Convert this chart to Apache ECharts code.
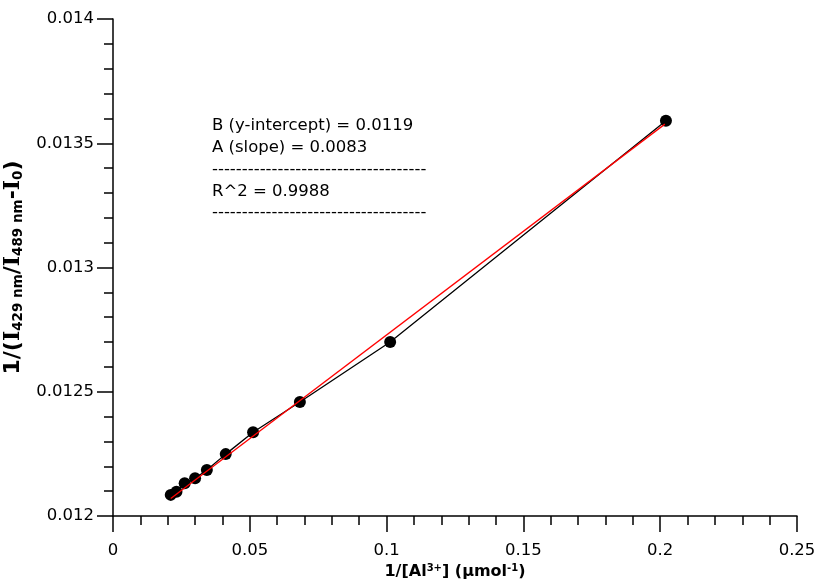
<!DOCTYPE html>
<html>
<head>
<meta charset="utf-8">
<script src="https://cdn.jsdelivr.net/npm/echarts@6/dist/echarts.min.js"></script>
<style>
html,body{margin:0;padding:0;background:#fff;}
#chart{width:819px;height:580px;}
</style>
</head>
<body>
<div id="chart"></div>
<script>
// Data
const xValues = [0.0211, 0.0232, 0.0262, 0.0300, 0.0343, 0.0412, 0.0512, 0.0683, 0.1013, 0.2021];
const yValues = [0.012085, 0.012098, 0.012132, 0.012152, 0.012185, 0.012249, 0.012337, 0.012459, 0.012700, 0.013591];
// Fitted line endpoints (red)
const fitX = [0.0211, 0.2017];
const fitY = [0.012070, 0.013577];
const annotationLines = [
  'B (y-intercept) = 0.0119',
  'A (slope) = 0.0083',
  '------------------------------------',
  'R^2 = 0.9988',
  '------------------------------------'
];

const font = 'DejaVu Sans';
const chart = echarts.init(document.getElementById('chart'), null, {renderer: 'canvas'});

const fmt = v => String(+(+v).toFixed(5));

chart.setOption({
  animation: false,
  backgroundColor: '#ffffff',
  grid: {left: 113, right: 22, top: 19, bottom: 64, containLabel: false, outerBoundsMode: 'none'},
  xAxis: {
    type: 'value', min: 0, max: 0.25, interval: 0.05,
    axisLine: {onZero: false, lineStyle: {color: '#000', width: 1.5}},
    axisTick: {show: true, length: 16, lineStyle: {color: '#000', width: 1.5}},
    minorTick: {show: true, splitNumber: 5, length: 9, lineStyle: {color: '#000', width: 1.5}},
    splitLine: {show: false},
    axisLabel: {color: '#000', fontFamily: font, fontSize: 16.5, margin: 26, formatter: fmt},
    name: '{n|1/[Al}{sup|3+}{n|] (µmol}{sup|-1}{n|)}',
    nameLocation: 'middle', nameGap: 46,
    nameTextStyle: {
      rich: {
        n: {fontFamily: font, fontWeight: 'bold', fontSize: 16, color: '#000'},
        sup: {fontFamily: font, fontWeight: 'bold', fontSize: 10, color: '#000', verticalAlign: 'top', padding: [0,0,6,0]}
      }
    }
  },
  yAxis: {
    type: 'value', min: 0.012, max: 0.014, interval: 0.0005,
    axisLine: {onZero: false, lineStyle: {color: '#000', width: 1.5}},
    axisTick: {show: true, length: 16, lineStyle: {color: '#000', width: 1.5}},
    minorTick: {show: true, splitNumber: 5, length: 9, lineStyle: {color: '#000', width: 1.5}},
    splitLine: {show: false},
    axisLabel: {color: '#000', fontFamily: font, fontSize: 16.5, margin: 19, formatter: fmt},
    name: '{n|1/(}{i|I}{sub|429 nm}{n|/}{i|I}{sub|489 nm}{n|-}{i|I}{sub|0}{n|)}',
    nameLocation: 'middle', nameGap: 81, nameRotate: 90,
    nameTextStyle: {
      rich: {
        n: {fontFamily: font, fontWeight: 'bold', fontSize: 22, color: '#000'},
        i: {fontFamily: 'DejaVu Serif', fontWeight: 'bold', fontSize: 22, color: '#000'},
        sub: {fontFamily: font, fontWeight: 'bold', fontSize: 13.5, color: '#000', padding: [10,0,0,0]}
      }
    }
  },
  graphic: [{
    type: 'text', left: 212, top: 115, silent: true,
    style: {
      text: annotationLines.join('\n'),
      fontFamily: font, fontSize: 16.5, fill: '#000', lineHeight: 21.8
    }
  }],
  series: [
    {
      type: 'line',
      data: xValues.map((x, i) => [x, yValues[i]]),
      symbol: 'circle', symbolSize: 12,
      itemStyle: {color: '#000'},
      lineStyle: {color: '#000', width: 1.3},
      z: 2
    },
    {
      type: 'line',
      data: fitX.map((x, i) => [x, fitY[i]]),
      symbol: 'none',
      lineStyle: {color: '#ff0000', width: 1.3},
      z: 3
    }
  ]
});
</script>
</body>
</html>
